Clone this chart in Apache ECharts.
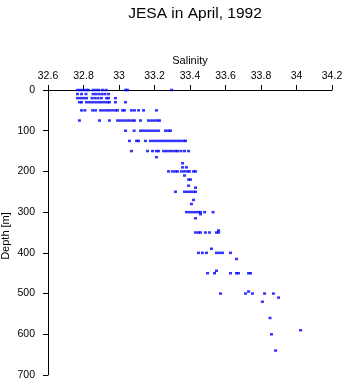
<!DOCTYPE html>
<html>
<head>
<meta charset="utf-8">
<script src="https://cdn.jsdelivr.net/npm/echarts@6/dist/echarts.min.js"></script>
<style>
html,body{margin:0;padding:0;background:#fff;}
#c{width:346px;height:384px;}
</style>
</head>
<body>
<div id="c"></div>
<script>
const titleText = "JESA in April, 1992";
const xAxisName = "Salinity";
const yAxisName = "Depth [m]";

// sample depths (m)
const depthLevels = [0, 10, 20, 30, 50, 75, 100, 125, 150, 165, 180, 190, 200, 210, 220, 235, 240, 250, 270, 280, 300, 305, 315, 345, 350, 390, 400, 415, 444, 450, 495, 500, 510, 520, 560, 590, 600, 640];

// salinity readings at each depth level
const salinityAtLevel = [
  [32.766, 32.783, 32.800, 32.817, 32.828, 32.854, 32.870, 32.885, 32.907, 32.927, 33.037, 33.048, 33.296],
  [32.766, 32.789, 32.814, 32.854, 32.870, 32.887, 32.904, 32.921, 32.941],
  [32.766, 32.783, 32.800, 32.817, 32.848, 32.865, 32.882, 32.901, 32.930, 32.941, 32.980],
  [32.777, 32.789, 32.817, 32.834, 32.851, 32.868, 32.885, 32.901, 32.918, 32.935, 32.946, 32.980, 33.037],
  [32.789, 32.808, 32.851, 32.868, 32.896, 32.913, 32.930, 32.946, 32.963, 32.980, 32.992, 33.020, 33.031, 33.070, 33.087, 33.110, 33.138, 33.211],
  [32.777, 32.890, 32.946, 32.992, 33.008, 33.025, 33.042, 33.059, 33.076, 33.087, 33.121, 33.166, 33.183, 33.200, 33.217, 33.228],
  [33.037, 33.085, 33.121, 33.138, 33.155, 33.172, 33.189, 33.206, 33.223, 33.262, 33.279, 33.290],
  [33.059, 33.099, 33.110, 33.149, 33.177, 33.194, 33.211, 33.228, 33.245, 33.262, 33.279, 33.296, 33.313, 33.330, 33.346, 33.363, 33.375],
  [33.070, 33.161, 33.189, 33.211, 33.223, 33.251, 33.268, 33.285, 33.301, 33.318, 33.330, 33.349, 33.369, 33.392],
  [33.211],
  [33.358],
  [33.358, 33.380],
  [33.279, 33.301, 33.318, 33.330, 33.352, 33.369, 33.386, 33.397, 33.420, 33.431],
  [33.369],
  [33.392, 33.403],
  [33.392],
  [33.431],
  [33.318, 33.369, 33.386, 33.403, 33.420, 33.431],
  [33.420],
  [33.408],
  [33.380, 33.397, 33.414, 33.431, 33.448, 33.459, 33.482, 33.530],
  [33.459],
  [33.431],
  [33.561],
  [33.431, 33.448, 33.459, 33.487, 33.510, 33.549, 33.561],
  [33.521],
  [33.448, 33.470, 33.493, 33.549, 33.566, 33.583, 33.628],
  [33.662],
  [33.549],
  [33.499, 33.538, 33.628, 33.662, 33.673, 33.730, 33.741],
  [33.730],
  [33.572, 33.713, 33.752, 33.820, 33.870],
  [33.899],
  [33.808],
  [33.851],
  [34.023],
  [33.859],
  [33.882]
];

const xTicks = {min: 32.6, max: 34.2, interval: 0.2};
const yTicks = {min: 0, max: 700, interval: 100};

const points = [];
depthLevels.forEach((d, i) => {
  salinityAtLevel[i].forEach(s => points.push([s, d]));
});

const FONT = "'Liberation Sans', Arial, sans-serif";
const chart = echarts.init(document.getElementById('c'), null, {renderer: 'canvas'});
chart.setOption({
  animation: false,
  backgroundColor: '#ffffff',
  title: {
    text: titleText,
    left: 190, top: 1, textAlign: 'center',
    textStyle: {fontFamily: FONT, fontSize: 15.5, fontWeight: 'normal', color: '#000'}
  },
  grid: {left: 48, right: 14, top: 90, bottom: 9, containLabel: false},
  xAxis: {
    type: 'value', position: 'top',
    min: xTicks.min, max: xTicks.max, interval: xTicks.interval,
    name: xAxisName, nameLocation: 'middle', nameGap: 23,
    nameTextStyle: {fontFamily: FONT, fontSize: 11, color: '#000'},
    axisLine: {show: true, onZero: false, lineStyle: {color: '#000', width: 1}},
    axisTick: {show: true, inside: false, length: 5, lineStyle: {color: '#000'}},
    axisLabel: {fontFamily: FONT, fontSize: 10.5, color: '#000', margin: 8},
    splitLine: {show: false}
  },
  yAxis: {
    type: 'value', inverse: true,
    min: yTicks.min, max: yTicks.max, interval: yTicks.interval,
    axisLine: {show: true, onZero: false, lineStyle: {color: '#000', width: 1}},
    axisTick: {show: true, length: 5, lineStyle: {color: '#000'}},
    axisLabel: {fontFamily: FONT, fontSize: 10.5, color: '#000', margin: 13},
    splitLine: {show: false}
  },
  graphic: [{
    type: 'text', x: 6, y: 236, rotation: Math.PI / 2,
    style: {text: yAxisName, fontFamily: FONT, fontSize: 11, fill: '#000', align: 'center', verticalAlign: 'middle'}
  }],
  series: [{
    type: 'scatter',
    data: points,
    symbol: 'rect',
    symbolSize: [3, 2.5],
    itemStyle: {color: '#0000ff'}
  }]
});
</script>
</body>
</html>
